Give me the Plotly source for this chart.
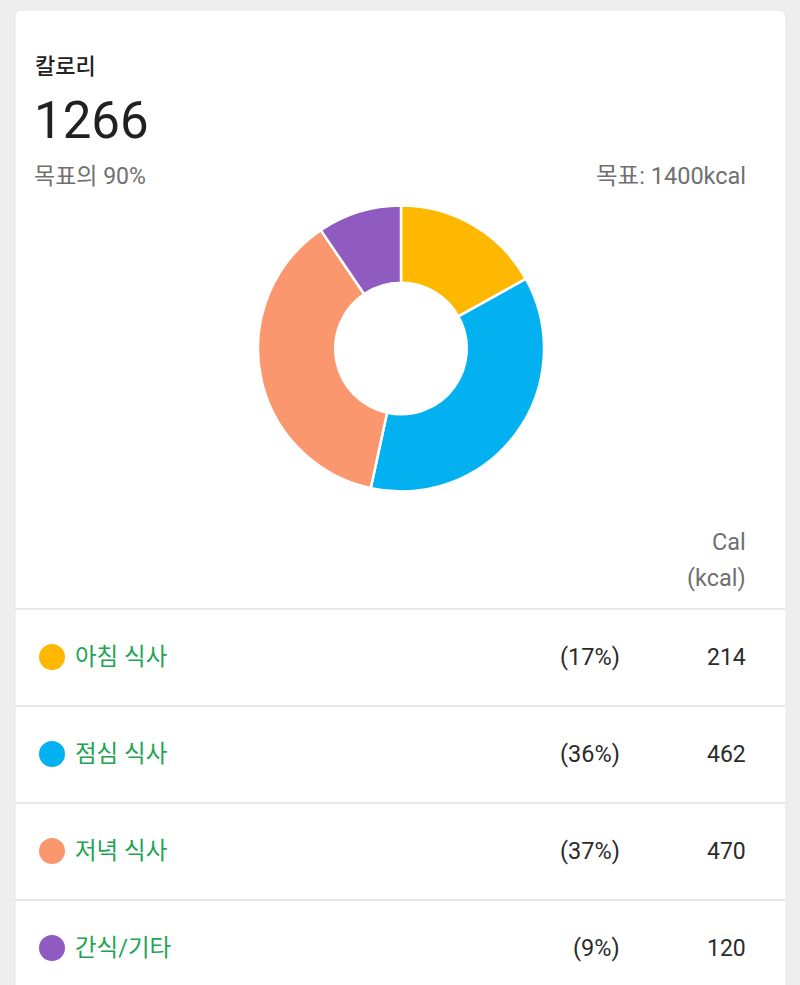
import plotly.graph_objects as go

# ---- data ----
categories = ["아침 식사", "점심 식사", "저녁 식사", "간식/기타"]
calories = [214, 462, 470, 120]
percent_labels = ["(17%)", "(36%)", "(37%)", "(9%)"]
colors = ["#FFB800", "#03B1F1", "#FA976F", "#8F5BC1"]
title_text = "칼로리"
total_text = "1266"
goal_pct_text = "목표의 90%"
goal_text = "목표: 1400kcal"
unit_lines = ["Cal", "(kcal)"]

W, H = 800, 985
FONT = "Roboto, 'Noto Sans CJK KR', sans-serif"

fig = go.Figure()

# donut
fig.add_trace(go.Pie(
    labels=categories, values=calories, sort=False, direction="clockwise",
    rotation=0, hole=0.46,
    marker=dict(colors=colors, line=dict(color="white", width=2.5)),
    textinfo="none", hoverinfo="label+value", showlegend=False,
    domain=dict(x=[258 / W, 544 / W], y=[1 - 492 / H, 1 - 205 / H]),
))

# legend dots (pixel axes)
row_y = [657 + 97 * i for i in range(len(categories))]
fig.add_trace(go.Scatter(
    x=[52] * len(categories), y=row_y, mode="markers",
    marker=dict(size=26, color=colors, line=dict(width=0)),
    hoverinfo="skip", showlegend=False,
))

fig.update_xaxes(range=[0, W], visible=False, fixedrange=True)
fig.update_yaxes(range=[H, 0], visible=False, fixedrange=True)

shapes = []
# card
r = 7
x0, x1, y0, y1 = 15, 786, 10, 1010
shapes.append(dict(
    type="path", xref="x", yref="y", layer="below",
    path=f"M {x0+r},{y0} L {x1-r},{y0} Q {x1},{y0} {x1},{y0+r} L {x1},{y1} L {x0},{y1} L {x0},{y0+r} Q {x0},{y0} {x0+r},{y0} Z",
    fillcolor="white", line=dict(color="#e6e6e6", width=1),
))
# dividers
for yy in [609, 706, 803, 900]:
    shapes.append(dict(type="line", xref="x", yref="y", layer="below",
                       x0=15, x1=786, y0=yy, y1=yy,
                       line=dict(color="#e0e0e0", width=1.5)))

ann = []
def t(x, y, s, size, color, xanchor="left", weight="normal"):
    ann.append(dict(x=x, y=y, xref="x", yref="y", text=s, showarrow=False,
                    xanchor=xanchor, yanchor="middle",
                    font=dict(family=FONT, size=size, color=color, weight=weight)))

t(33, 66, title_text, 22, "#222222", weight=500)
t(32, 120, total_text, 51, "#212121")
t(32, 176, goal_pct_text, 23, "#707070")
t(748, 176, goal_text, 23.5, "#707070", "right")
t(748, 542, unit_lines[0], 23.5, "#707070", "right")
t(748, 578, unit_lines[1], 23.5, "#707070", "right")

for i, (c, p, v) in enumerate(zip(categories, percent_labels, calories)):
    y = row_y[i]
    t(73, y, c, 23.5, "#22A454")
    t(622, y, p, 23.5, "#2b2b2b", "right")
    t(748, y, str(v), 23, "#2b2b2b", "right")

fig.update_layout(
    width=W, height=H, margin=dict(l=0, r=0, t=0, b=0),
    paper_bgcolor="#eeeeee", plot_bgcolor="rgba(0,0,0,0)",
    shapes=shapes, annotations=ann, showlegend=False,
)

fig.write_html("out.html", config={"displayModeBar": False})
